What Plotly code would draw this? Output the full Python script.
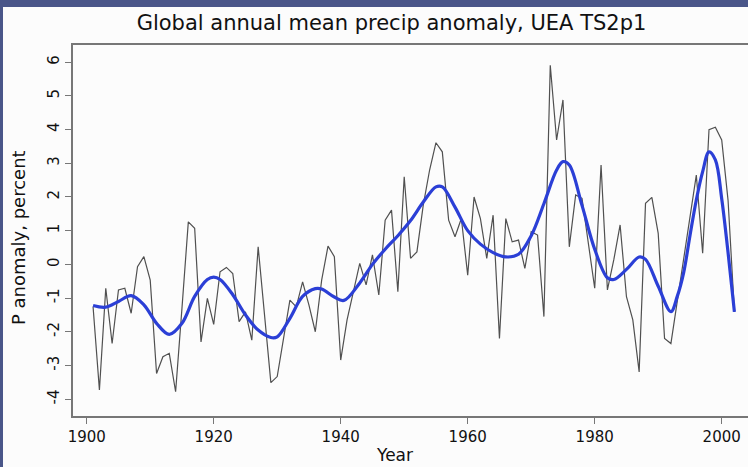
import plotly.graph_objects as go

years = list(range(1901, 2003))
anomaly = [
    -1.26, -3.73, -0.71, -2.35, -0.76, -0.71, -1.45, -0.07, 0.23, -0.47,
    -3.24, -2.74, -2.64, -3.78, -1.30, 1.26, 1.07, -2.30, -1.01, -1.78,
    -0.22, -0.09, -0.27, -1.70, -1.41, -2.25, 0.52, -1.50, -3.51, -3.33,
    -2.20, -1.06, -1.26, -0.52, -1.21, -2.00, -0.47, 0.54, 0.23, -2.84,
    -1.65, -0.81, 0.03, -0.61, 0.28, -0.91, 1.31, 1.61, -0.81, 2.60,
    0.18, 0.37, 1.76, 2.80, 3.61, 3.34, 1.31, 0.82, 1.36, -0.32,
    2.00, 1.36, 0.18, 1.46, -2.20, 1.36, 0.67, 0.72, -0.12, 0.97,
    0.87, -1.55, 5.91, 3.69, 4.88, 0.52, 2.06, 1.96, 0.67, -0.71,
    2.95, -0.76, 0.13, 1.17, -0.96, -1.65, -3.19, 1.81, 1.99, 0.92,
    -2.20, -2.35, -1.10, 0.20, 1.40, 2.65, 0.33, 4.00, 4.07, 3.69,
    1.90, -1.41,
]

smooth_years = [1901, 1903, 1905, 1907, 1909, 1911, 1913, 1915, 1917, 1919,
                1920, 1921, 1923, 1925, 1927, 1929, 1930, 1932, 1934, 1936,
                1937, 1939, 1940.5, 1943, 1945, 1947, 1949, 1951, 1953, 1955,
                1956, 1958, 1960, 1962, 1964, 1966, 1968, 1970, 1972, 1974,
                1975, 1976, 1978, 1980, 1982, 1983, 1985, 1987, 1988, 1990,
                1992, 1993, 1994, 1995, 1996, 1997, 1998, 1999, 2000, 2001, 2002]
smooth_vals = [-1.22, -1.27, -1.10, -0.93, -1.20, -1.75, -2.08, -1.75, -0.95, -0.45,
               -0.38, -0.45, -0.90, -1.50, -1.95, -2.17, -2.15, -1.60, -0.95, -0.72,
               -0.73, -0.97, -1.07, -0.55, 0.00, 0.45, 0.85, 1.30, 1.85, 2.30,
               2.30, 1.70, 1.00, 0.60, 0.35, 0.22, 0.30, 0.85, 1.80, 2.80,
               3.05, 2.95, 1.75, 0.45, -0.40, -0.45, -0.15, 0.22, 0.15, -0.65,
               -1.40, -0.95, -0.25, 0.85, 1.91, 2.75, 3.34, 3.10, 1.95, 0.35, -1.41]

x_ticks = [1900, 1920, 1940, 1960, 1980, 2000]
y_ticks = [-4, -3, -2, -1, 0, 1, 2, 3, 4, 5, 6]
y_ticklabels = ["-4", "-3", "-2", "-1", "0", "1", "2", "3", "4", "5", "6"]

FONT = "DejaVu Sans"
fig = go.Figure()
fig.add_trace(go.Scatter(x=years, y=anomaly, mode="lines",
                         line=dict(color="#505050", width=1.2), hoverinfo="skip"))
fig.add_trace(go.Scatter(x=smooth_years, y=smooth_vals, mode="lines",
                         line=dict(color="#2b3fd6", width=3.2, shape="spline", smoothing=1.0),
                         hoverinfo="skip"))

W, H = 748, 467
L, T, B, R = 73, 45, 51, 0
pw, ph = W - L - R, H - T - B

fig.update_layout(
    width=W, height=H,
    margin=dict(l=L, r=R, t=T, b=B, pad=0),
    paper_bgcolor="#fcfcfc", plot_bgcolor="#fcfcfc",
    showlegend=False,
    font=dict(family=FONT, color="#1a1a1a"),
    title=dict(text="Global annual mean precip anomaly, UEA TS2p1",
               x=391.5 / W, xanchor="center", y=1 - 23 / H, yanchor="middle",
               font=dict(size=21, family=FONT, color="#111")),
    xaxis=dict(range=[1897.84, 2004.14], tickvals=x_ticks, ticks="outside", ticklen=6,
               tickcolor="#777", tickwidth=1, showline=True, linecolor="#777", linewidth=1.5,
               mirror=True, showgrid=False, zeroline=False,
               tickfont=dict(size=15, family=FONT, color="#111")),
    yaxis=dict(range=[-4.50, 6.51], tickvals=y_ticks, ticktext=y_ticklabels,
               ticks="outside", ticklen=6,
               tickcolor="#777", tickwidth=1, showline=True, linecolor="#777", linewidth=1.5,
               showgrid=False, zeroline=False, tickangle=-90,
               tickfont=dict(size=15, family=FONT, color="#111")),
    annotations=[
        dict(text="Year", xref="paper", yref="paper",
             x=(394 - L) / pw, y=-(455 - (T + ph)) / ph,
             xanchor="center", yanchor="middle", showarrow=False,
             font=dict(size=17, family=FONT, color="#111")),
        dict(text="P anomaly, percent", xref="paper", yref="paper",
             x=(18 - L) / pw, y=(T + ph - 238) / ph, textangle=-90,
             xanchor="center", yanchor="middle", showarrow=False,
             font=dict(size=18, family=FONT, color="#111")),
    ],
    shapes=[
        dict(type="rect", xref="paper", yref="paper", layer="above",
             x0=-L / pw, x1=(W - L) / pw, y0=1 + (T - 7) / ph, y1=1 + T / ph + 0.01,
             fillcolor="#4a5689", line=dict(width=0)),
        dict(type="rect", xref="paper", yref="paper", layer="above",
             x0=-L / pw - 0.01, x1=(3 - L) / pw, y0=-B / ph - 0.01, y1=1 + T / ph + 0.01,
             fillcolor="#4a5689", line=dict(width=0)),
    ],
)

fig.write_html("out.html")
